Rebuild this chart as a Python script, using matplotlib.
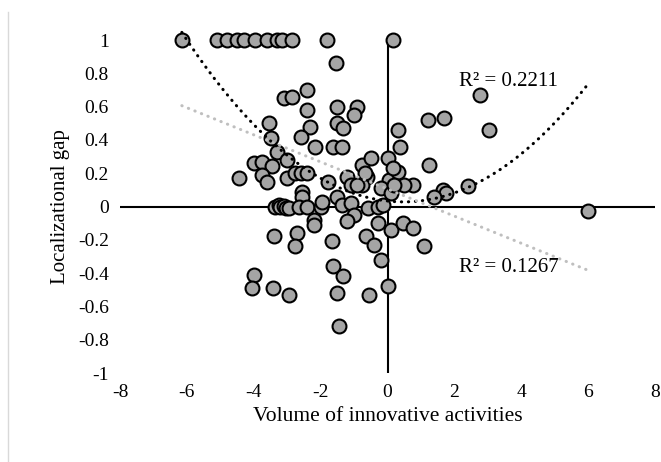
import numpy as np
import matplotlib
matplotlib.use("Agg")
import matplotlib.pyplot as plt
from matplotlib.lines import Line2D

plt.rcParams['font.family'] = ['Liberation Serif', 'DejaVu Serif']

# points
x_vals = [
    -6.15, -5.1, -4.8, -4.5, -4.3, -3.95, -3.6, -3.3, -3.15, -2.85, -1.8, 0.15,
    -1.55, -2.4, -3.1, -2.87, -2.42, -1.5, -0.9, -0.99, -3.53, -2.33, -1.5, -1.32,
    -2.6, -3.47, 0.3, -2.16, -1.62, -1.35, -3.3, 0.36, 2.78, 1.2, 1.7, 3.02, 1.23,
    -3.02, -4.0, -3.74, -3.44, -4.43, -3.74, -3.6, -3.0, -2.78, -2.6, -2.4,
    -1.77, -1.2, -1.1, -0.6, -0.75, -0.75, -0.5, -0.66, 0.0, 0.03, 0.3, 0.15,
    -0.2, 0.09, -0.9, 0.75, 0.48, 0.18, 1.65, 1.74, 1.38, 2.42,
    -2.55, -2.55, -1.5, -1.35, -1.1, -0.57, -0.27, -0.12, -1.0, -1.2, -0.27,
    0.09, 0.45, 0.75, 1.08, 5.99,
    -3.35, -3.25, -3.2, -3.1, -3.05, -2.96, -2.66, -2.4, -2.0, -1.95,
    -2.2, -2.2, -3.4, -2.7, -2.78, -1.65, -0.63, -0.39, -0.2,
    -3.98, -4.04, -3.41, -2.96, -1.62, -1.32, -1.5, -0.54, 0.0, -1.44,
]
y_vals = [
    1, 1, 1, 1, 1, 1, 1, 1, 1, 1, 1, 1,
    0.86, 0.70, 0.65, 0.655, 0.58, 0.595, 0.60, 0.55, 0.50, 0.48, 0.50, 0.47,
    0.42, 0.41, 0.46, 0.36, 0.355, 0.36, 0.33, 0.36, 0.67, 0.52, 0.53, 0.46, 0.25,
    0.28, 0.26, 0.265, 0.245, 0.17, 0.19, 0.145, 0.17, 0.20, 0.20, 0.20,
    0.15, 0.18, 0.13, 0.18, 0.13, 0.25, 0.29, 0.20, 0.29, 0.16, 0.21, 0.23,
    0.11, 0.08, 0.13, 0.13, 0.13, 0.13, 0.10, 0.08, 0.06, 0.125,
    0.09, 0.06, 0.055, 0.01, 0.02, -0.006, 0.0, 0.01, -0.05, -0.09, -0.10,
    -0.14, -0.10, -0.13, -0.24, -0.024,
    0.0, 0.01, 0.0, 0.006, -0.01, -0.006, 0.0, 0.0, 0.0, 0.03,
    -0.08, -0.11, -0.18, -0.16, -0.235, -0.21, -0.18, -0.23, -0.32,
    -0.41, -0.49, -0.49, -0.53, -0.36, -0.42, -0.52, -0.53, -0.48, -0.715,
]

# trendline coefficients (highest power first)
poly_trend = [0.0232, -0.022, 0.033]
lin_trend = [-0.0814, 0.105]
r2_poly = "R\u00b2 = 0.2211"
r2_lin = "R\u00b2 = 0.1267"

x_ticks = [-8, -6, -4, -2, 0, 2, 4, 6, 8]
y_ticks = [-1, -0.8, -0.6, -0.4, -0.2, 0, 0.2, 0.4, 0.6, 0.8, 1]

x = np.array(x_vals)
y = np.array(y_vals)

fig = plt.figure(figsize=(6.61, 4.62), dpi=100)
ax = fig.add_axes([0.1815, 0.1926, 0.8095, 0.7208])

# axes crossing at zero
ax.axhline(0, color='black', lw=1.5, zorder=1)
ax.axvline(0, color='black', lw=1.5, zorder=1)

ax.scatter(x, y, s=100, facecolor='#A5A5A5', edgecolor='black', linewidths=1.5,
           zorder=3, clip_on=False)

# trendlines, Excel style: from min x to max x
xs = np.linspace(x.min(), x.max(), 200)
ax.plot(xs, np.polyval(poly_trend, xs), color='black', lw=2.2,
        linestyle=(0, (0.1, 2.2)), dash_capstyle='round', zorder=4, clip_on=False)
ax.plot(xs, np.polyval(lin_trend, xs), color='#BFBFBF', lw=2.2,
        linestyle=(0, (0.1, 2.2)), dash_capstyle='round', zorder=4)

ax.text(2.13, 0.75, r2_poly, fontsize=15, ha='left', va='center')
ax.text(2.13, -0.366, r2_lin, fontsize=15, ha='left', va='center')

ax.set_xlim(-8, 8)
ax.set_ylim(-1, 1)
ax.set_xticks(x_ticks)
ax.set_yticks(y_ticks)
ax.set_xticklabels([str(t) for t in x_ticks])
ax.set_yticklabels([('%g' % t) for t in y_ticks])
ax.tick_params(length=0, labelsize=14, pad=8)
for s in ax.spines.values():
    s.set_visible(False)

ax.set_xlabel("Volume of innovative activities", fontsize=15.5, labelpad=4)
ax.set_ylabel("Localizational gap", fontsize=15, labelpad=6)

# light frame edge at the left
fig.add_artist(Line2D([8 / 661, 8 / 661], [0, 1 - 12 / 462], color='#D9D9D9', lw=1))

fig.savefig("out.png", dpi=100)
